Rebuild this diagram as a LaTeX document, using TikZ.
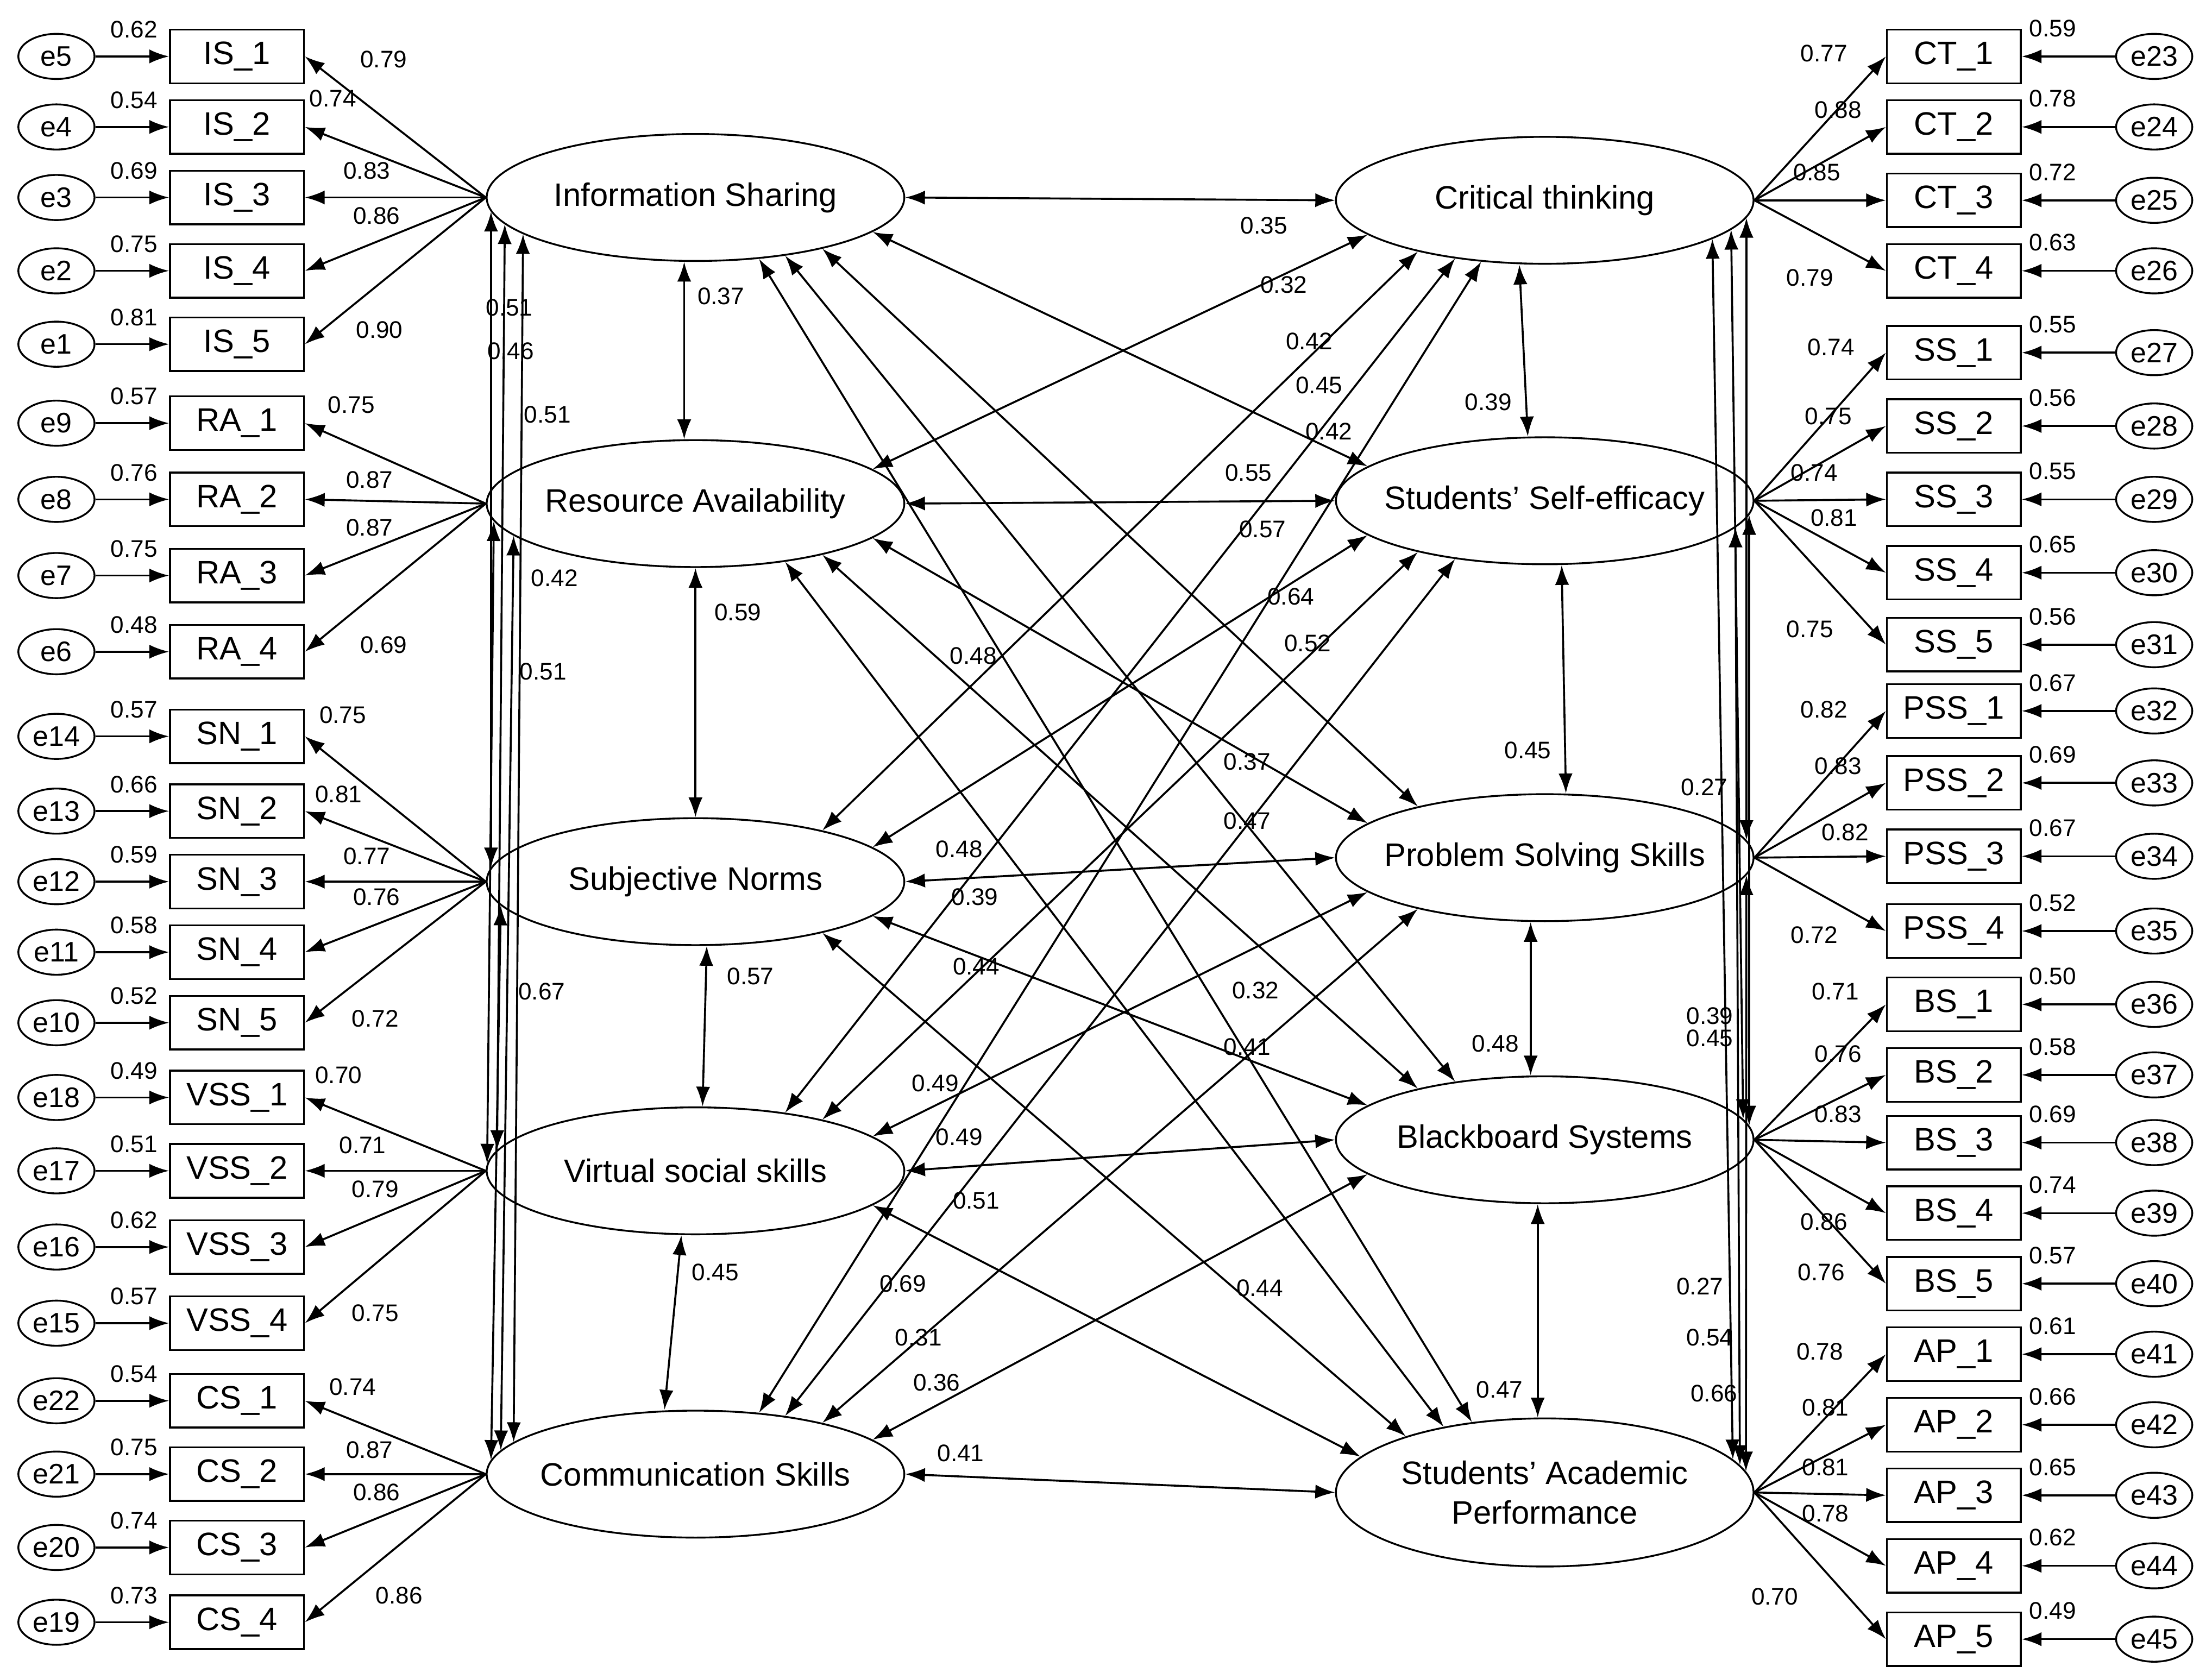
\documentclass[tikz,border=0pt]{standalone}
\usepackage{fontspec}
\setmainfont{Liberation Sans}
\usetikzlibrary{shapes.geometric,arrows.meta}
\begin{document}
\begin{tikzpicture}[x=1pt,y=-1pt,
  lf/.style={font=\fontsize{23}{28}\selectfont,align=center,inner sep=0},
  lat/.style={draw,ellipse,line width=1.3pt,minimum width=296pt,minimum height=90pt,inner sep=0},
  box/.style={draw,rectangle,line width=1.3pt,minimum width=95pt,minimum height=38pt,inner sep=0,font=\fontsize{23}{26}\selectfont},
  err/.style={draw,ellipse,line width=1.3pt,minimum width=54pt,minimum height=32pt,inner sep=0,font=\fontsize{20}{22}\selectfont},
  num/.style={font=\fontsize{17}{19}\selectfont,inner sep=0},
  ar/.style={line width=1.4pt,-{Latex[length=14pt,width=10pt]}},
  dar/.style={line width=1.4pt,{Latex[length=14pt,width=10pt]}-{Latex[length=14pt,width=10pt]}}]
\useasboundingbox (0,0) rectangle (1568,1190);
\node[lat,label={[lf]center:Information Sharing}] (IS) at (493,140) {};
\node[lat,label={[lf]center:Resource Availability}] (RA) at (493,357) {};
\node[lat,label={[lf]center:Subjective Norms}] (SN) at (493,625) {};
\node[lat,label={[lf]center:Virtual social skills}] (VSS) at (493,830) {};
\node[lat,label={[lf]center:Communication Skills}] (CS) at (493,1045) {};
\node[lat,label={[lf]center:Critical thinking}] (CT) at (1095,142) {};
\node[lat,label={[lf]center:Students’ Self-efficacy}] (SS) at (1095,355) {};
\node[lat,label={[lf]center:Problem Solving Skills}] (PSS) at (1095,608) {};
\node[lat,label={[lf]center:Blackboard Systems}] (BS) at (1095,808) {};
\node[lat,minimum height=105pt,label={[lf]center:Students’ Academic\\Performance}] (AP) at (1095,1058) {};
% left indicators
\foreach \nm/\t/\y/\e/\ev/\L/\lam/\lx/\ly in {
IS1/IS\_1/40/5/0.62/IS/0.79/272/42, IS2/IS\_2/90/4/0.54/IS/0.74/236/70, IS3/IS\_3/140/3/0.69/IS/0.83/260/121, IS4/IS\_4/192/2/0.75/IS/0.86/267/153, IS5/IS\_5/244/1/0.81/IS/0.90/269/234,
RA1/RA\_1/300/9/0.57/RA/0.75/249/287, RA2/RA\_2/354/8/0.76/RA/0.87/262/340, RA3/RA\_3/408/7/0.75/RA/0.87/262/374, RA4/RA\_4/462/6/0.48/RA/0.69/272/457,
SN1/SN\_1/522/14/0.57/SN/0.75/243/507, SN2/SN\_2/575/13/0.66/SN/0.81/240/563, SN3/SN\_3/625/12/0.59/SN/0.77/260/607, SN4/SN\_4/675/11/0.58/SN/0.76/267/636, SN5/SN\_5/725/10/0.52/SN/0.72/266/722,
VSS1/VSS\_1/778/18/0.49/VSS/0.70/240/762, VSS2/VSS\_2/830/17/0.51/VSS/0.71/257/812, VSS3/VSS\_3/884/16/0.62/VSS/0.79/266/843, VSS4/VSS\_4/938/15/0.57/VSS/0.75/266/931,
CS1/CS\_1/993/22/0.54/CS/0.74/250/983, CS2/CS\_2/1045/21/0.75/CS/0.87/262/1028, CS3/CS\_3/1097/20/0.74/CS/0.86/267/1058, CS4/CS\_4/1150/19/0.73/CS/0.86/283/1131}{
  \node[box] (\nm) at (168,\y) {\t};
  \node[err] (e\e) at (40,\y) {e\e};
  \draw[ar] (e\e) -- (\nm);
  \node[num] at (95,\y-19) {\ev};
  \draw[ar] (\L.west) -- (\nm.east);
  \node[num] at (\lx,\ly) {\lam};
}
% right indicators
\foreach \nm/\t/\y/\e/\ev/\L/\lam/\lx/\ly in {
CT1/CT\_1/40/23/0.59/CT/0.77/1293/38, CT2/CT\_2/90/24/0.78/CT/0.88/1303/78, CT3/CT\_3/142/25/0.72/CT/0.85/1288/122, CT4/CT\_4/192/26/0.63/CT/0.79/1283/197,
SS1/SS\_1/250/27/0.55/SS/0.74/1298/246, SS2/SS\_2/302/28/0.56/SS/0.75/1296/295, SS3/SS\_3/354/29/0.55/SS/0.74/1286/335, SS4/SS\_4/406/30/0.65/SS/0.81/1300/367, SS5/SS\_5/457/31/0.56/SS/0.75/1283/446,
PSS1/PSS\_1/504/32/0.67/PSS/0.82/1293/503, PSS2/PSS\_2/555/33/0.69/PSS/0.83/1303/543, PSS3/PSS\_3/607/34/0.67/PSS/0.82/1308/590, PSS4/PSS\_4/660/35/0.52/PSS/0.72/1286/663,
BS1/BS\_1/712/36/0.50/BS/0.71/1301/703, BS2/BS\_2/762/37/0.58/BS/0.76/1303/747, BS3/BS\_3/810/38/0.69/BS/0.83/1303/790, BS4/BS\_4/860/39/0.74/BS/0.86/1293/866, BS5/BS\_5/910/40/0.57/BS/0.76/1291/902,
AP1/AP\_1/960/41/0.61/AP/0.78/1290/958, AP2/AP\_2/1010/42/0.66/AP/0.81/1294/998, AP3/AP\_3/1060/43/0.65/AP/0.81/1294/1040, AP4/AP\_4/1110/44/0.62/AP/0.78/1294/1073, AP5/AP\_5/1162/45/0.49/AP/0.70/1258/1132}{
  \node[box] (\nm) at (1385,\y) {\t};
  \node[err] (e\e) at (1527,\y) {e\e};
  \draw[ar] (e\e) -- (\nm);
  \node[num] at (1455,\y-20) {\ev};
  \draw[ar] (\L.east) -- (\nm.west);
  \node[num] at (\lx,\ly) {\lam};
}
% adjacent covariances
\draw[dar] ([xshift=-8pt]IS.south) -- ([xshift=-8pt]RA.north); \node[num] at (511,210) {0.37};
\draw[dar] (RA.south) -- (SN.north); \node[num] at (523,434) {0.59};
\draw[dar] ([xshift=8pt]SN.south) -- ([xshift=5pt]VSS.north); \node[num] at (532,692) {0.57};
\draw[dar] ([xshift=-10pt]VSS.south) -- ([xshift=-22pt]CS.north); \node[num] at (507,902) {0.45};
\draw[dar] ([xshift=-18pt]CT.south) -- ([xshift=-12pt]SS.north); \node[num] at (1055,285) {0.39};
\draw[dar] ([xshift=12pt]SS.south) -- ([xshift=15pt]PSS.north); \node[num] at (1083,532) {0.45};
\draw[dar] ([xshift=-10pt]PSS.south) -- ([xshift=-10pt]BS.north); \node[num] at (1060,740) {0.48};
\draw[dar] ([xshift=-5pt]BS.south) -- ([xshift=-5pt]AP.north); \node[num] at (1063,985) {0.47};
% left long covariances
\draw[dar] (IS.184) -- (SN.176); \draw[dar] (IS.188) -- (VSS.174);
\draw[dar] (IS.192) -- (CS.170); \draw[dar] (RA.185) -- (VSS.178);
\draw[dar] (RA.190) -- (CS.173); \draw[dar] (SN.187) -- (CS.176);
\node[num] at (361,218) {0.51}; \node[num] at (362,249) {0.46}; \node[num] at (388,294) {0.51};
\node[num] at (393,410) {0.42}; \node[num] at (385,476) {0.51}; \node[num] at (384,703) {0.67};
% right long covariances
\draw[dar] (CT.355) -- (PSS.5); \draw[dar] (CT.351) -- (BS.6);
\draw[dar] (CT.347) -- (AP.10); \draw[dar] (SS.356) -- (BS.4);
\draw[dar] (SS.352) -- (AP.8); \draw[dar] (PSS.355) -- (AP.6);
\node[num] at (1208,558) {0.27}; \node[num] at (1212,720) {0.39}; \node[num] at (1212,736) {0.45};
\node[num] at (1205,912) {0.27}; \node[num] at (1212,948) {0.54}; \node[num] at (1215,988) {0.66};
% cross covariances
\foreach \a [count=\i] in {IS,RA,SN,VSS,CS}{\foreach \b [count=\j] in {CT,SS,PSS,BS,AP}{
  \pgfmathsetmacro\la{-11*(\j-\i)}\pgfmathsetmacro\ra{180-11*(\j-\i)}
  \draw[dar] (\a.\la) -- (\b.\ra);}}
\foreach \v/\x/\y in {0.35/896/160,0.32/910/202,0.42/928/242,0.45/935/273,0.42/942/306,0.55/885/335,0.57/895/375,0.64/915/423,0.52/927/456,0.48/690/465,0.37/884/540,0.47/884/582,0.48/680/602,0.39/691/636,0.44/692/685,0.32/890/702,0.41/884/742,0.49/663/768,0.49/680/806,0.51/692/851,0.44/893/913,0.69/640/910,0.31/651/948,0.36/664/980,0.41/681/1030}{\node[num] at (\x,\y) {\v};}
\end{tikzpicture}
\end{document}
